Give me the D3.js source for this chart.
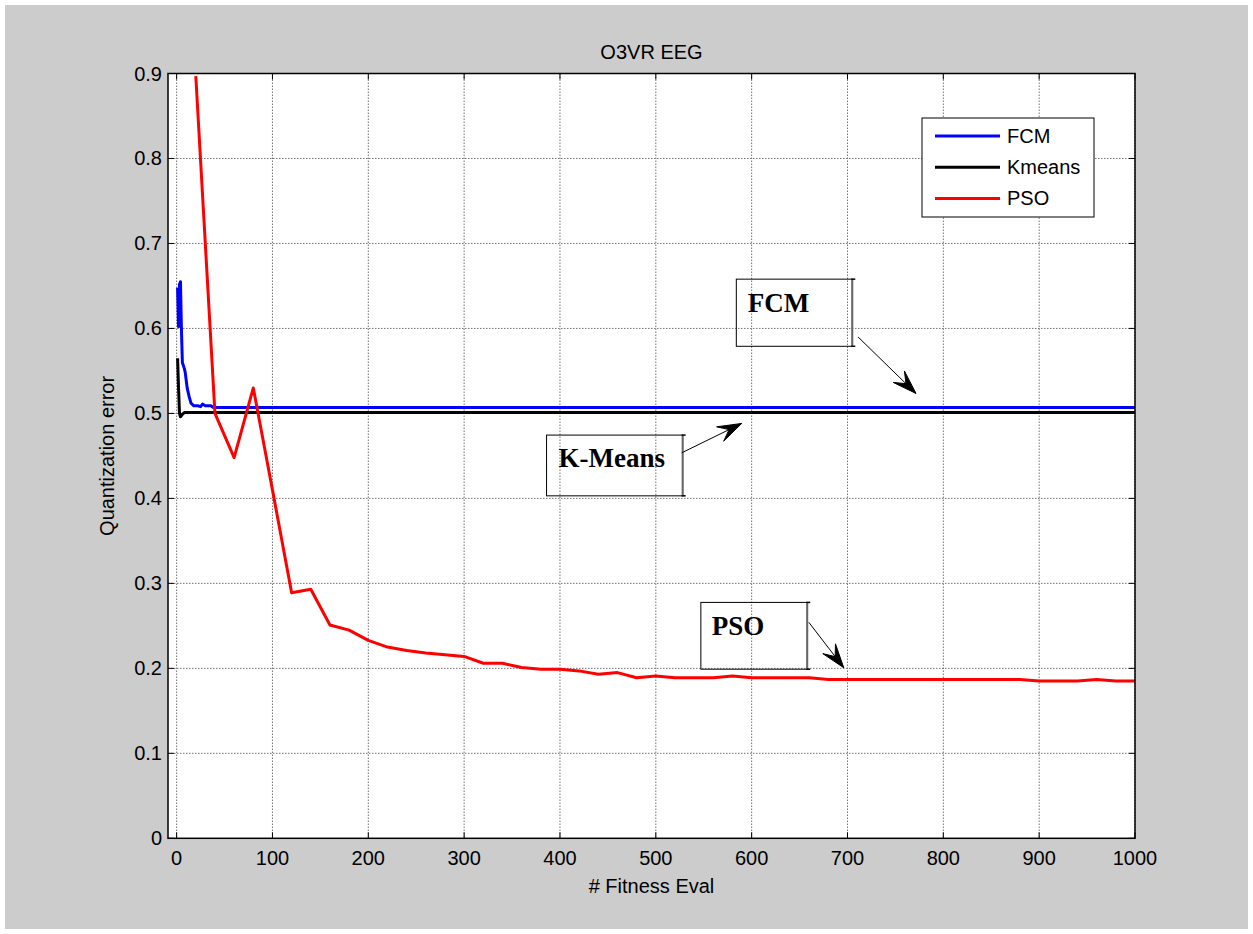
<!DOCTYPE html>
<meta charset="utf-8">
<head>
<script src="https://d3js.org/d3.v7.min.js"></script>
<style>
  body { margin: 0; background: #ffffff; }
  svg { display: block; }
  text { font-family: "Liberation Sans", Arial, Helvetica, sans-serif; }
  .anno { font-family: "Liberation Serif", "Times New Roman", serif; font-weight: bold; }
</style>
</head>
<body>
<svg id="chart" width="1253" height="934"></svg>

<script>
// ---- data ----
var xTicks = [0, 100, 200, 300, 400, 500, 600, 700, 800, 900, 1000];
var yTicks = [0, 0.1, 0.2, 0.3, 0.4, 0.5, 0.6, 0.7, 0.8, 0.9];

var fcmX = [1, 2, 3, 4, 5, 6, 8, 9, 11, 13, 15, 18, 22, 25, 27, 30, 36, 38, 1000];
var fcmY = [0.648, 0.602, 0.652, 0.655, 0.600, 0.560, 0.553, 0.548, 0.530, 0.520, 0.512, 0.509, 0.509, 0.508, 0.511, 0.509, 0.509, 0.507, 0.507];

var kmX = [1, 2, 3, 4, 6, 8, 1000];
var kmY = [0.565, 0.530, 0.500, 0.496, 0.499, 0.501, 0.501];

var psoX = [20, 40, 60, 80, 100, 120, 140, 160, 180, 200,
            220, 240, 260, 280, 300, 320, 340, 360, 380, 400,
            420, 440, 460, 480, 500, 520, 540, 560, 580, 600,
            620, 640, 660, 680, 700, 720, 740, 760, 780, 800,
            820, 840, 860, 880, 900, 920, 940, 960, 980, 1000];
var psoY = [0.897, 0.500, 0.448, 0.530, 0.410, 0.289, 0.293, 0.251, 0.245, 0.233,
            0.225, 0.221, 0.218, 0.216, 0.214, 0.206, 0.206, 0.201, 0.199, 0.199,
            0.197, 0.193, 0.195, 0.189, 0.191, 0.189, 0.189, 0.189, 0.191, 0.189,
            0.189, 0.189, 0.189, 0.187, 0.187, 0.187, 0.187, 0.187, 0.187, 0.187,
            0.187, 0.187, 0.187, 0.187, 0.185, 0.185, 0.185, 0.187, 0.185, 0.185];

var seriesNames = ["FCM", "Kmeans", "PSO"];
var seriesColors = ["#0000ff", "#000000", "#ff0000"];

// annotation boxes in data units: [x0, x1, yTop, yBottom], text pos, arrow from/to
var annoLabels = ["FCM", "K-Means", "PSO"];
var annoBoxes = [[584, 705, 0.658, 0.579], [386, 528, 0.4745, 0.403], [547, 658, 0.2776, 0.199]];
var annoText = [[596, 0.6195], [398.5, 0.4365], [558.3, 0.2392]];
var annoArrows = [[[711, 0.590], [771.5, 0.5235]], [[527, 0.4536], [589.6, 0.4882]], [[659.7, 0.2541], [696.1, 0.2007]]];

// ---- layout ----
var svg = d3.select("#chart"),
    width = +svg.attr("width"),
    height = +svg.attr("height");

var plot = {left: 168, right: 1135, top: 73.5, bottom: 838.3};

svg.append("rect")
    .attr("x", 5).attr("y", 5)
    .attr("width", width - 10).attr("height", height - 10)
    .attr("fill", "#cccccc");

var x = d3.scaleLinear().domain([-9, 1000]).range([plot.left, plot.right]);
var y = d3.scaleLinear().domain([0, 0.9]).range([plot.bottom, plot.top]);

svg.append("rect")
    .attr("x", plot.left).attr("y", plot.top)
    .attr("width", plot.right - plot.left).attr("height", plot.bottom - plot.top)
    .attr("fill", "#ffffff");

// grid
var grid = svg.append("g").attr("stroke", "#444").attr("stroke-width", 1)
    .attr("stroke-dasharray", "1.5,1.5").attr("opacity", 0.75);
grid.selectAll("line.vx").data(xTicks).enter().append("line")
    .attr("x1", d => x(d)).attr("x2", d => x(d))
    .attr("y1", plot.top).attr("y2", plot.bottom);
grid.selectAll("line.hy").data(yTicks.slice(1, -1)).enter().append("line")
    .attr("x1", plot.left).attr("x2", plot.right)
    .attr("y1", d => y(d)).attr("y2", d => y(d));

// lines
var line = d3.line().x(d => x(d[0])).y(d => y(d[1]));
var allSeries = [d3.zip(fcmX, fcmY), d3.zip(kmX, kmY), d3.zip(psoX, psoY)];
svg.append("clipPath").attr("id", "clip").append("rect")
    .attr("x", plot.left).attr("y", plot.top)
    .attr("width", plot.right - plot.left).attr("height", plot.bottom - plot.top);

// draw order: Kmeans, FCM, PSO on top
[1, 0, 2].forEach(function(i) {
  svg.append("path")
      .datum(allSeries[i])
      .attr("clip-path", "url(#clip)")
      .attr("fill", "none")
      .attr("stroke", seriesColors[i])
      .attr("stroke-width", 3)
      .attr("stroke-linejoin", "round")
      .attr("d", line);
});

// axes box
svg.append("rect")
    .attr("x", plot.left).attr("y", plot.top)
    .attr("width", plot.right - plot.left).attr("height", plot.bottom - plot.top)
    .attr("fill", "none").attr("stroke", "#000").attr("stroke-width", 1.5);

// ticks (inward, all four sides)
var tk = svg.append("g").attr("stroke", "#000").attr("stroke-width", 1);
var tl = 6;
xTicks.forEach(function(d) {
  tk.append("line").attr("x1", x(d)).attr("x2", x(d)).attr("y1", plot.bottom).attr("y2", plot.bottom - tl);
  tk.append("line").attr("x1", x(d)).attr("x2", x(d)).attr("y1", plot.top).attr("y2", plot.top + tl);
});
yTicks.forEach(function(d) {
  tk.append("line").attr("x1", plot.left).attr("x2", plot.left + tl).attr("y1", y(d)).attr("y2", y(d));
  tk.append("line").attr("x1", plot.right).attr("x2", plot.right - tl).attr("y1", y(d)).attr("y2", y(d));
});

// tick labels
svg.append("g").selectAll("text").data(xTicks).enter().append("text")
    .attr("x", d => x(d)).attr("y", plot.bottom + 27)
    .attr("text-anchor", "middle").attr("font-size", 20).attr("fill", "#000")
    .text(d => d);
svg.append("g").selectAll("text").data(yTicks).enter().append("text")
    .attr("x", plot.left - 6).attr("y", d => y(d) + 7)
    .attr("text-anchor", "end").attr("font-size", 20).attr("fill", "#000")
    .text(d => d === 0 ? "0" : d3.format(".1f")(d));

// titles
var cx = (plot.left + plot.right) / 2;
svg.append("text").attr("x", cx).attr("y", 59).attr("text-anchor", "middle")
    .attr("font-size", 20).text("O3VR EEG");
svg.append("text").attr("x", cx).attr("y", 893).attr("text-anchor", "middle")
    .attr("font-size", 20).text("# Fitness Eval");
svg.append("text").attr("transform", "translate(114," + ((plot.top + plot.bottom) / 2) + ") rotate(-90)")
    .attr("text-anchor", "middle").attr("font-size", 20).text("Quantization error");

// legend
var lg = svg.append("g");
lg.append("rect").attr("x", 922).attr("y", 118).attr("width", 172).attr("height", 99)
    .attr("fill", "#ffffff").attr("stroke", "#000").attr("stroke-width", 1);
seriesNames.forEach(function(n, i) {
  var ly = 136 + i * 31.2;
  lg.append("line").attr("x1", 935).attr("x2", 1000).attr("y1", ly).attr("y2", ly)
      .attr("stroke", seriesColors[i]).attr("stroke-width", 3);
  lg.append("text").attr("x", 1007).attr("y", ly + 7).attr("font-size", 20).text(n);
});

// annotations
function arrowHead(g, p0, p1) {
  var dx = p1[0] - p0[0], dy = p1[1] - p0[1];
  var a = Math.atan2(dy, dx);
  var L = 22, W = 8, N = 14;
  function pt(along, across) {
    return [p1[0] - along * Math.cos(a) - across * Math.sin(a),
            p1[1] - along * Math.sin(a) + across * Math.cos(a)];
  }
  var pts = [p1, pt(L + 2, W), pt(N, 0), pt(L + 2, -W)];
  g.append("path").attr("d", "M" + pts.map(p => p.join(",")).join("L") + "Z")
      .attr("fill", "#000").attr("stroke", "#000").attr("stroke-width", 1);
}

annoLabels.forEach(function(lbl, i) {
  var b = annoBoxes[i], g = svg.append("g");
  g.append("rect")
      .attr("x", x(b[0])).attr("y", y(b[2]))
      .attr("width", x(b[1]) - x(b[0])).attr("height", y(b[3]) - y(b[2]))
      .attr("fill", "none").attr("stroke", "#000").attr("stroke-width", 1);
  g.append("line").attr("x1", x(b[1])).attr("x2", x(b[1]))
      .attr("y1", y(b[2])).attr("y2", y(b[3]))
      .attr("stroke", "#666").attr("stroke-width", 2);
  [b[2], b[3]].forEach(function(v) {
    g.append("line").attr("x1", x(b[1]) - 1).attr("x2", x(b[1]) + 3)
        .attr("y1", y(v)).attr("y2", y(v)).attr("stroke", "#000").attr("stroke-width", 1.5);
  });
  g.append("text").attr("class", "anno")
      .attr("x", x(annoText[i][0])).attr("y", y(annoText[i][1]))
      .attr("font-size", 27).text(lbl);
  var a0 = [x(annoArrows[i][0][0]), y(annoArrows[i][0][1])],
      a1 = [x(annoArrows[i][1][0]), y(annoArrows[i][1][1])];
  g.append("line").attr("x1", a0[0]).attr("y1", a0[1]).attr("x2", a1[0]).attr("y2", a1[1])
      .attr("stroke", "#000").attr("stroke-width", 1);
  arrowHead(g, a0, a1);
});
</script>
</body>
</html>
